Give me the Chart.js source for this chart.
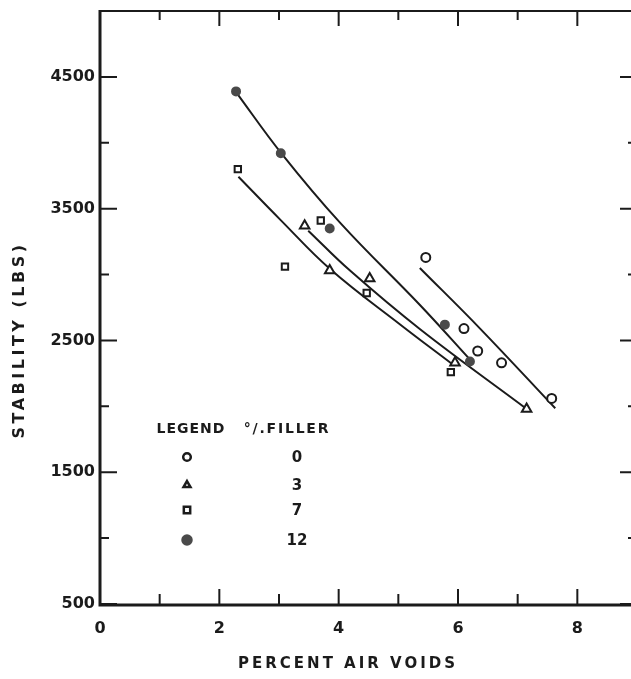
<!DOCTYPE html>
<html>
<head>
<meta charset="utf-8">
<script src="https://cdn.jsdelivr.net/npm/chart.js@4.4.1/dist/chart.umd.min.js"></script>
<style>
  html, body { margin: 0; padding: 0; background: #fff; overflow: hidden; }
  canvas { display: block; }
</style>
</head>
<body>
<canvas id="chart_stability" width="660" height="679"></canvas>
<script>
// measured points, one pair of arrays per filler content
var voids0 = [5.46, 6.10, 6.33, 6.73, 7.57];
var stab0 = [3130, 2590, 2420, 2330, 2060];
var voids3 = [3.43, 3.85, 4.52, 5.95, 7.15];
var stab3 = [3370, 3030, 2970, 2330, 1980];
var voids7 = [2.31, 3.10, 3.70, 4.47, 5.88];
var stab7 = [3800, 3060, 3410, 2860, 2260];
var voids12 = [2.28, 3.03, 3.85, 5.78, 6.20];
var stab12 = [4390, 3920, 3350, 2620, 2340];

// hand-faired curves through each group
var curve0X = [5.36, 6.37, 7.63];
var curve0Y = [3050, 2590, 1985];
var curve3X = [3.49, 4.19, 5.37, 7.16];
var curve3Y = [3333, 3030, 2583, 1977];
var curve7X = [2.32, 3.02, 3.86, 5.03, 5.91];
var curve7Y = [3742, 3417, 3040, 2621, 2318];
var curve12X = [2.28, 3.04, 4.03, 5.37, 6.22];
var curve12Y = [4385, 3920, 3390, 2765, 2345];

var fillerLabels = ["0", "3", "7", "12"];
var yLabelled = [500, 1500, 2500, 3500, 4500];
var xLabelled = [0, 2, 4, 6, 8];

var ink = '#1b1b1b';
var dotGrey = '#4a4a4a';
var font = "'DejaVu Sans', sans-serif";

function pairs(xs, ys) {
  return xs.map(function (x, i) { return { x: x, y: ys[i] }; });
}

function pointSet(label, xs, ys, style, filled, radius) {
  return {
    label: label,
    data: pairs(xs, ys),
    showLine: false,
    pointStyle: style,
    pointRadius: radius,
    pointBorderWidth: 2,
    pointBorderColor: filled ? dotGrey : ink,
    pointBackgroundColor: filled ? dotGrey : '#fff',
    order: 0
  };
}

function curveSet(xs, ys) {
  return {
    data: pairs(xs, ys),
    showLine: true,
    borderColor: ink,
    borderWidth: 2,
    pointRadius: 0,
    tension: 0.4,
    fill: false,
    order: 1
  };
}

// frame, inward ticks, axis titles and the legend block
var framePlugin = {
  id: 'frame',
  afterDraw: function (chart) {
    var ctx = chart.ctx;
    var a = chart.chartArea;
    var xs = chart.scales.x, ys = chart.scales.y;
    ctx.save();
    ctx.strokeStyle = ink;
    ctx.lineCap = 'butt';

    ctx.lineWidth = 3;
    ctx.beginPath();
    ctx.moveTo(a.left, a.top - 1);
    ctx.lineTo(a.left, a.bottom + 1);
    ctx.lineTo(a.right, a.bottom + 1);
    ctx.stroke();
    ctx.lineWidth = 2;
    ctx.beginPath();
    ctx.moveTo(a.left, a.top);
    ctx.lineTo(a.right, a.top);
    ctx.lineTo(a.right, a.bottom);
    ctx.stroke();

    ctx.lineWidth = 2;
    for (var v = 500; v < 5000; v += 500) {
      var py = ys.getPixelForValue(v);
      var len = (v - 500) % 1000 === 0 ? 17 : 9;
      ctx.beginPath();
      ctx.moveTo(a.left, py); ctx.lineTo(a.left + len, py);
      ctx.moveTo(a.right, py); ctx.lineTo(a.right - len, py);
      ctx.stroke();
    }
    for (var t = 1; t < 9; t++) {
      var px = xs.getPixelForValue(t);
      var l = t % 2 === 0 ? 15 : 10;
      ctx.beginPath();
      ctx.moveTo(px, a.bottom); ctx.lineTo(px, a.bottom - l);
      ctx.moveTo(px, a.top); ctx.lineTo(px, a.top + (t % 2 === 0 ? 15 : 9));
      ctx.stroke();
    }

    ctx.fillStyle = ink;
    ctx.font = "bold 15px " + font;
    ctx.letterSpacing = '3px';
    ctx.textAlign = 'center';
    ctx.textBaseline = 'middle';
    ctx.fillText('PERCENT AIR VOIDS', 348, 664);

    ctx.save();
    ctx.translate(20, 340);
    ctx.rotate(-Math.PI / 2);
    ctx.font = "bold 16px " + font;
    ctx.letterSpacing = '3.5px';
    ctx.fillText('STABILITY (LBS)', 0, 0);
    ctx.restore();

    // legend
    ctx.font = "bold 14px " + font;
    ctx.letterSpacing = '1px';
    ctx.fillText('LEGEND', 191, 429);
    ctx.letterSpacing = '1.8px';
    ctx.fillText('°/.FILLER', 287, 429);
    ctx.font = "bold 15px " + font;
    ctx.letterSpacing = '0px';
    var rowsY = [457, 485, 510, 540];
    var styles = ['circle', 'triangle', 'rect', 'circle'];
    var sizes = [3.8, 4, 4.5, 4.5];
    for (var i = 0; i < fillerLabels.length; i++) {
      ctx.fillStyle = ink;
      ctx.fillText(fillerLabels[i], 297, rowsY[i] + 1);
      ctx.lineWidth = 2.5;
      ctx.strokeStyle = i === 3 ? dotGrey : ink;
      ctx.fillStyle = i === 3 ? dotGrey : '#fff';
      Chart.helpers.drawPoint(ctx, {
        pointStyle: styles[i],
        radius: sizes[i],
        borderWidth: 2.5,
        rotation: 0
      }, 187, rowsY[i]);
    }
    ctx.restore();
  }
};

var stabilityCanvas = document.getElementById("chart_stability");

var stabilityChart = new Chart(stabilityCanvas, {
  type: 'scatter',
  data: {
    datasets: [
      curveSet(curve0X, curve0Y),
      curveSet(curve3X, curve3Y),
      curveSet(curve7X, curve7Y),
      curveSet(curve12X, curve12Y),
      pointSet('0', voids0, stab0, 'circle', false, 4.5),
      pointSet('3', voids3, stab3, 'triangle', false, 5.5),
      pointSet('7', voids7, stab7, 'rect', false, 4.5),
      pointSet('12', voids12, stab12, 'circle', true, 4)
    ]
  },
  options: {
    responsive: false,
    animation: false,
    devicePixelRatio: 1,
    layout: { padding: { top: 11, right: 23, left: 0, bottom: 0 } },
    plugins: {
      legend: { display: false },
      tooltip: { enabled: false }
    },
    scales: {
      x: {
        type: 'linear',
        min: 0,
        max: 9,
        grid: { display: false, drawTicks: false },
        border: { display: false },
        afterFit: function (s) { s.height = 75; s.paddingLeft = 0; s.paddingRight = 0; },
        ticks: {
          stepSize: 1,
          padding: 15,
          color: ink,
          font: { family: font, size: 16, weight: 'bold' },
          maxRotation: 0,
          autoSkip: false,
          callback: function (v) { return xLabelled.indexOf(v) >= 0 ? String(v) : ''; }
        }
      },
      y: {
        type: 'linear',
        min: 500,
        max: 5000,
        grid: { display: false, drawTicks: false },
        border: { display: false },
        afterFit: function (s) { s.width = 100; s.paddingTop = 0; s.paddingBottom = 0; },
        ticks: {
          stepSize: 500,
          padding: 5,
          color: ink,
          font: { family: font, size: 16, weight: 'bold' },
          autoSkip: false,
          callback: function (v) { return yLabelled.indexOf(v) >= 0 ? String(v) : ''; }
        }
      }
    }
  },
  plugins: [framePlugin]
});
</script>
</body>
</html>
